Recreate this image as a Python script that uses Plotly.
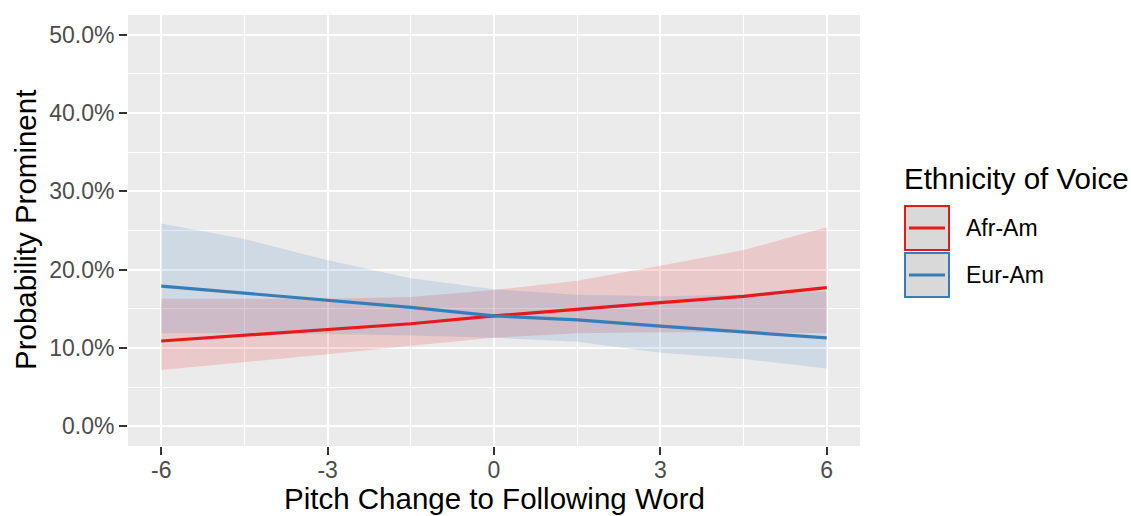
import plotly.graph_objects as go

# ---- data ----
pitch = [-6, -4.5, -3, -1.5, 0, 1.5, 3, 4.5, 6]

afr_fit   = [0.109, 0.116, 0.124, 0.131, 0.141, 0.150, 0.158, 0.166, 0.177]
afr_lower = [0.072, 0.082, 0.092, 0.103, 0.113, 0.119, 0.120, 0.120, 0.119]
afr_upper = [0.163, 0.163, 0.163, 0.165, 0.174, 0.186, 0.205, 0.225, 0.254]

eur_fit   = [0.179, 0.170, 0.161, 0.152, 0.141, 0.136, 0.128, 0.120, 0.113]
eur_lower = [0.119, 0.119, 0.118, 0.116, 0.113, 0.108, 0.094, 0.086, 0.074]
eur_upper = [0.259, 0.239, 0.212, 0.189, 0.175, 0.168, 0.166, 0.168, 0.172]

groups = ["Afr-Am", "Eur-Am"]
x_ticks = [-6, -3, 0, 3, 6]
x_tick_labels = ["-6", "-3", "0", "3", "6"]
y_ticks = [0, 0.1, 0.2, 0.3, 0.4, 0.5]
y_tick_labels = ["0.0%", "10.0%", "20.0%", "30.0%", "40.0%", "50.0%"]

RED = "#E41A1C"
BLUE = "#377EB8"
FONT = "Liberation Sans, Arial, sans-serif"

W, H = 1131, 516
L, R, T, B = 128, 271, 15, 70
PW, PH = W - L - R, H - T - B


def px(xpix):
    return (xpix - L) / PW


def py(ypix):
    return (H - B - ypix) / PH


fig = go.Figure()

series = [
    (groups[0], afr_fit, afr_lower, afr_upper, RED, "rgba(228,26,28,0.16)"),
    (groups[1], eur_fit, eur_lower, eur_upper, BLUE, "rgba(55,126,184,0.16)"),
]

for name, fit, lo, up, col, fillcol in series:
    fig.add_trace(go.Scatter(
        x=pitch + pitch[::-1], y=up + lo[::-1], fill="toself",
        fillcolor=fillcol, line=dict(width=0), mode="lines",
        hoverinfo="skip", showlegend=False))

for name, fit, lo, up, col, fillcol in series:
    fig.add_trace(go.Scatter(
        x=pitch, y=fit, mode="lines", name=name,
        line=dict(color=col, width=3.2), showlegend=False))

axis_common = dict(
    showline=False, zeroline=False, gridcolor="white", gridwidth=2,
    ticks="outside", ticklen=8, tickwidth=2, tickcolor="#333333",
    tickfont=dict(family=FONT, size=23, color="#4D4D4D"),
)

fig.update_xaxes(range=[-6.6, 6.6], tickvals=x_ticks, ticktext=x_tick_labels,
                 ticklabelstandoff=-5,
                 minor=dict(dtick=1.5, tick0=0, showgrid=True,
                            gridcolor="white", gridwidth=1, ticks=""),
                 **axis_common)
fig.update_yaxes(range=[-0.025, 0.525], tickvals=y_ticks, ticktext=y_tick_labels,
                 minor=dict(dtick=0.05, tick0=0, showgrid=True,
                            gridcolor="white", gridwidth=1, ticks=""),
                 **axis_common)

TITLE_SIZE = 29.5
annotations = [
    dict(text="Probability Prominent", xref="paper", yref="paper",
         x=px(25), y=py(230), textangle=-90, showarrow=False,
         xanchor="center", yanchor="middle",
         font=dict(family=FONT, size=TITLE_SIZE, color="black")),
    dict(text="Pitch Change to Following Word", xref="paper", yref="paper",
         x=px(494), y=py(516), showarrow=False, borderpad=0,
         xanchor="center", yanchor="bottom",
         font=dict(family=FONT, size=TITLE_SIZE, color="black")),
    dict(text="Ethnicity of Voice", xref="paper", yref="paper",
         x=px(902), y=py(178), showarrow=False,
         xanchor="left", yanchor="middle",
         font=dict(family=FONT, size=TITLE_SIZE, color="black")),
]

shapes = []
key_rows = [(groups[0], RED, 206, 250), (groups[1], BLUE, 253, 297)]
for name, col, y0, y1 in key_rows:
    shapes.append(dict(type="rect", xref="paper", yref="paper",
                       x0=px(905), x1=px(949), y0=py(y1), y1=py(y0),
                       fillcolor="#D9D9D9", line=dict(color=col, width=2)))
    yc = (y0 + y1) / 2
    shapes.append(dict(type="line", xref="paper", yref="paper",
                       x0=px(909), x1=px(945), y0=py(yc), y1=py(yc),
                       line=dict(color=col, width=3.2)))
    annotations.append(dict(text=name, xref="paper", yref="paper",
                            x=px(964), y=py(yc), showarrow=False,
                            xanchor="left", yanchor="middle",
                            font=dict(family=FONT, size=23, color="black")))

fig.update_layout(
    width=W, height=H,
    margin=dict(l=L, r=R, t=T, b=B),
    paper_bgcolor="white", plot_bgcolor="#EBEBEB",
    annotations=annotations, shapes=shapes,
    showlegend=False,
)

fig.write_html("out.html")
